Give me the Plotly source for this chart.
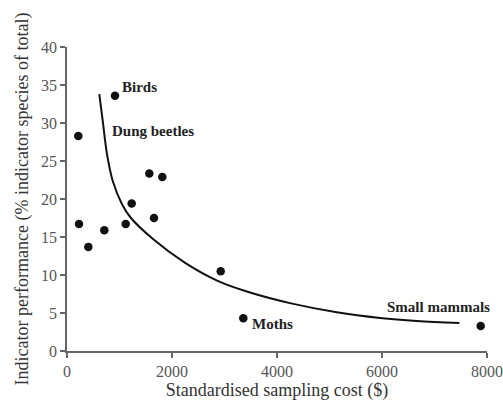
import plotly.graph_objects as go

# Observed indicator groups
cost = [215, 914, 1568, 1816, 1232, 229, 406, 711, 1118, 1657, 2928, 3358, 7880]
performance = [28.3, 33.6, 23.35, 22.9, 19.4, 16.7, 13.7, 15.9, 16.7, 17.5, 10.5, 4.3, 3.3]

# Fitted curve
curve_cost = [615, 680, 762, 870, 1048, 1206, 1644, 2250, 2880, 3486, 4311, 5137, 5962, 6660, 7473]
curve_perf = [33.8, 30.3, 25.9, 22.4, 19.3, 17.6, 14.7, 11.6, 9.2, 7.7, 6.2, 5.1, 4.35, 3.95, 3.68]

# Labels
label_text = ["Birds", "Dung beetles", "Moths", "Small mammals"]
label_x = [1010, 819, 3486, 6057]
label_y = [34.8, 29.0, 3.5, 5.83]

x_ticks = [0, 2000, 4000, 6000, 8000]
y_ticks = [0, 5, 10, 15, 20, 25, 30, 35, 40]

serif = "Liberation Serif, Times New Roman, serif"
axis_col = "#666666"

fig = go.Figure()
fig.add_trace(go.Scatter(x=curve_cost, y=curve_perf, mode="lines",
                         line=dict(color="#111111", width=2, shape="spline", smoothing=1.0),
                         hoverinfo="skip", showlegend=False))
fig.add_trace(go.Scatter(x=cost, y=performance, mode="markers",
                         marker=dict(color="#111111", size=8.5),
                         showlegend=False))

for t, x, y in zip(label_text, label_x, label_y):
    fig.add_annotation(x=x, y=y, text="<b>" + t + "</b>", showarrow=False,
                       xanchor="left", yanchor="middle",
                       font=dict(family=serif, size=15, color="#222222"))

fig.update_layout(
    width=503, height=401,
    margin=dict(l=67, r=16, t=47, b=50),
    paper_bgcolor="white", plot_bgcolor="white",
    font=dict(family=serif, color="#444444"),
)
fig.update_xaxes(range=[0, 8000], tickvals=x_ticks, showgrid=False, zeroline=False,
                 automargin=False,
                 showline=True, linecolor=axis_col, linewidth=1.5,
                 ticks="outside", ticklen=5, tickcolor=axis_col, tickwidth=1.5,
                 tickfont=dict(family=serif, size=16, color="#555555"),
                 title=dict(text="Standardised sampling cost ($)", standoff=4,
                            font=dict(family=serif, size=18, color="#333333")))
fig.update_yaxes(range=[0, 40], tickvals=y_ticks, showgrid=False, zeroline=False,
                 automargin=False,
                 showline=True, linecolor=axis_col, linewidth=1.5,
                 ticks="outside", ticklen=5, tickcolor=axis_col, tickwidth=1.5,
                 tickfont=dict(family=serif, size=16, color="#555555"),
                 title=dict(text="Indicator performance (% indicator species of total)", standoff=8,
                            font=dict(family=serif, size=18, color="#333333")))

fig.write_html("out.html", config={"displayModeBar": False},
               post_script="document.body.style.margin='0';document.body.style.overflow='hidden';")
